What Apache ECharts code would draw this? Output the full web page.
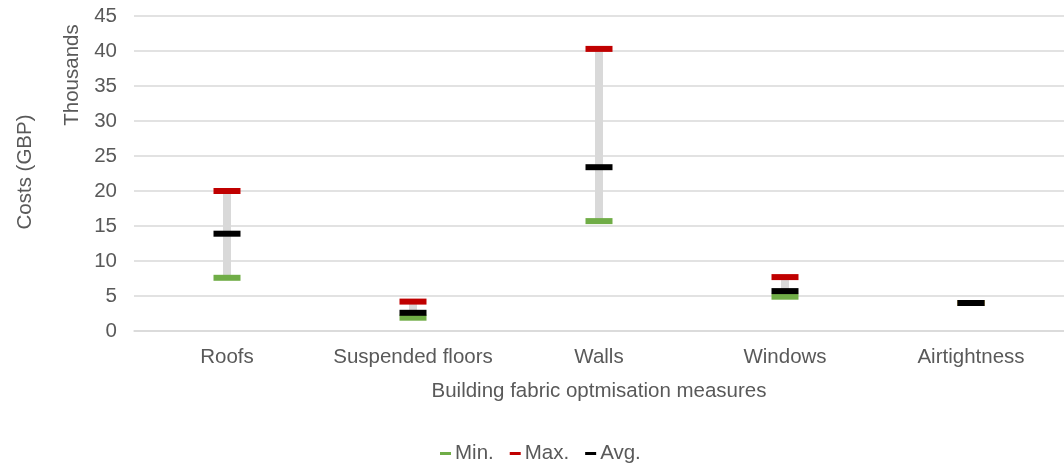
<!DOCTYPE html>
<html><head><meta charset="utf-8">
<script src="https://cdn.jsdelivr.net/npm/echarts@6/dist/echarts.min.js"></script>
<style>html,body{margin:0;padding:0;background:#fff}#c{width:1064px;height:467px}</style>
</head><body><div id="c"></div>
<script>
const categories = ['Roofs', 'Suspended floors', 'Walls', 'Windows', 'Airtightness'];
const minVals = [7.6, 1.9, 15.7, 4.9, 4.0];
const maxVals = [20.0, 4.2, 40.3, 7.7, 4.0];
const avgVals = [13.9, 2.6, 23.4, 5.7, 4.0];
const yTicks = { min: 0, max: 45, interval: 5 };

const font = 'Liberation Sans, Arial, sans-serif';
const fs = 20.5;
const txt = '#595959';
const chart = echarts.init(document.getElementById('c'));
chart.setOption({
  animation: false,
  grid: { left: 134, top: 16, width: 936, height: 315, containLabel: false },
  legend: {
    top: 443, left: 440, padding: 0, itemWidth: 11, itemHeight: 3, itemGap: 16,
    textStyle: { fontFamily: font, fontSize: fs, color: txt, padding: [0, 0, 0, -1] },
    data: [
      { name: 'Min.', icon: 'rect', itemStyle: { color: '#70ad47', opacity: 1 } },
      { name: 'Max.', icon: 'rect', itemStyle: { color: '#c00000', opacity: 1 } },
      { name: 'Avg.', icon: 'rect', itemStyle: { color: '#000000', opacity: 1 } }
    ]
  },
  xAxis: {
    type: 'category', data: categories,
    name: 'Building fabric optmisation measures', nameLocation: 'middle', nameGap: 50,
    nameTextStyle: { fontFamily: font, fontSize: fs, color: txt },
    axisLine: { show: true, lineStyle: { color: '#d9d9d9', width: 1.5 } },
    axisTick: { show: false },
    axisLabel: { fontFamily: font, fontSize: fs, color: txt, margin: 16, interval: 0 }
  },
  yAxis: {
    type: 'value', min: yTicks.min, max: yTicks.max, interval: yTicks.interval,
    axisLine: { show: false }, axisTick: { show: false },
    axisLabel: { fontFamily: font, fontSize: fs, color: txt, margin: 17 },
    splitLine: { lineStyle: { color: '#d9d9d9', width: 1.5 } }
  },
  graphic: [
    { type: 'text', rotation: Math.PI / 2, x: 25, y: 172,
      style: { text: 'Costs (GBP)', font: fs + 'px ' + font, fill: txt, textAlign: 'center', textVerticalAlign: 'middle' } },
    { type: 'text', rotation: Math.PI / 2, x: 72, y: 75,
      style: { text: 'Thousands', font: fs + 'px ' + font, fill: txt, textAlign: 'center', textVerticalAlign: 'middle' } }
  ],
  series: [
    {
      name: 'range', type: 'custom', silent: true, z: 1,
      renderItem: function (params, api) {
        const x = api.coord([api.value(0), api.value(1)]);
        const y2 = api.coord([api.value(0), api.value(2)]);
        return { type: 'rect', shape: { x: x[0] - 4, y: y2[1], width: 8, height: x[1] - y2[1] }, style: { fill: '#d9d9d9' } };
      },
      data: categories.map((c, i) => [i, minVals[i], maxVals[i]])
    },
    { name: 'Max.', type: 'scatter', symbol: 'rect', symbolSize: [27, 6], z: 3, itemStyle: { color: '#c00000', opacity: 1 }, data: maxVals },
    { name: 'Min.', type: 'scatter', symbol: 'rect', symbolSize: [27, 6], z: 4, itemStyle: { color: '#70ad47', opacity: 1 }, data: minVals },
    { name: 'Avg.', type: 'scatter', symbol: 'rect', symbolSize: [27, 6], z: 5, itemStyle: { color: '#000000', opacity: 1 }, data: avgVals }
  ]
});
</script></body></html>
